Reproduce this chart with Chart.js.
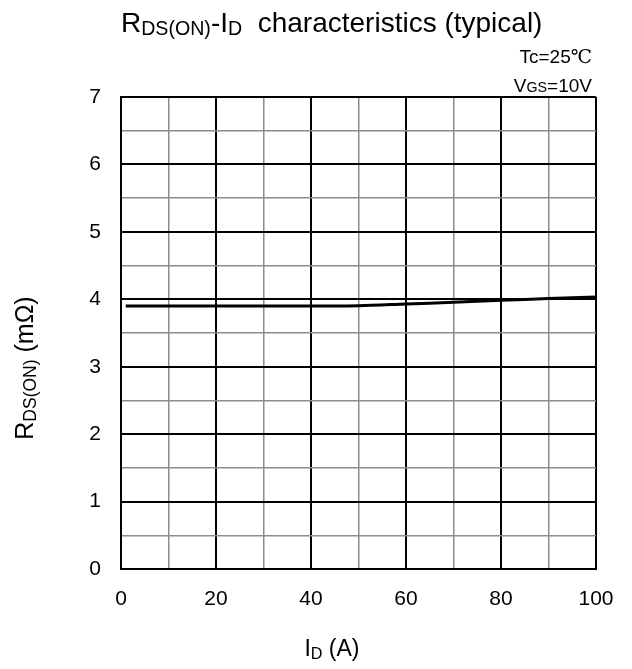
<!DOCTYPE html>
<html>
<head>
<meta charset="utf-8">
<script src="https://cdn.jsdelivr.net/npm/chart.js@4"></script>
<style>
  html, body { margin: 0; padding: 0; background: #fff; }
  #wrap { width: 632px; height: 669px; }
</style>
</head>
<body>
<div id="wrap"><canvas id="myChart" width="632" height="669"></canvas></div>
<script>
'use strict';

// drain current (A) and on-resistance (mOhm)
let currentA = [1, 10, 20, 30, 40, 50, 60, 70, 75, 80, 90, 100];
let rdsOn = [3.9, 3.9, 3.9, 3.9, 3.9, 3.905, 3.93, 3.955, 3.97, 3.985, 4.01, 4.035];
let xTicks = [0, 20, 40, 60, 80, 100];
let yTicks = [0, 1, 2, 3, 4, 5, 6, 7];

let points = [];
for (let i = 0; i < currentA.length; i++) {
  points.push({ x: currentA[i], y: rdsOn[i] });
}

let font = '"Liberation Sans", Arial, sans-serif';
let serif = '"Liberation Serif", "DejaVu Serif", serif';

// draws text pieces, some as subscripts or smaller / other font
function drawParts(ctx, parts, x, y, size, align) {
  function setFont(p) {
    let s = p.sub ? size * 0.7 : (p.small ? size * 0.75 : size);
    ctx.font = s + 'px ' + (p.serif ? serif : font);
  }
  let total = 0;
  parts.forEach(function (p) {
    setFont(p);
    total += ctx.measureText(p.t).width;
  });
  let cx = align === 'right' ? x - total : (align === 'center' ? x - total / 2 : x);
  parts.forEach(function (p) {
    setFont(p);
    ctx.fillText(p.t, cx, p.sub ? y + size * 0.12 : y);
    cx += ctx.measureText(p.t).width;
  });
}

let labelsPlugin = {
  id: 'labels',
  afterDraw(chart) {
    let ctx = chart.ctx;
    ctx.save();
    ctx.fillStyle = '#000';
    ctx.textBaseline = 'alphabetic';
    drawParts(ctx, [{ t: 'R' }, { t: 'DS(ON)', sub: true }, { t: '-I' }, { t: 'D', sub: true },
      { t: '  characteristics (typical)' }], 121, 32, 28, 'left');
    drawParts(ctx, [{ t: 'Tc=25' }, { t: '\u2103', serif: true }], 592, 63, 19, 'right');
    drawParts(ctx, [{ t: 'V' }, { t: 'GS', small: true }, { t: '=10V' }], 592, 92, 19, 'right');
    drawParts(ctx, [{ t: 'I' }, { t: 'D', sub: true }, { t: ' (A)' }], 332, 656, 23, 'center');
    ctx.translate(33, 368);
    ctx.rotate(-Math.PI / 2);
    drawParts(ctx, [{ t: 'R' }, { t: 'DS(ON)', sub: true }, { t: ' (m\u03a9)' }], 0, 0, 25, 'center');
    ctx.restore();
  }
};

let ctx = document.getElementById('myChart').getContext('2d');
let chart = new Chart(ctx, {
  type: 'line',
  data: {
    datasets: [{
      data: points,
      borderColor: '#000',
      borderWidth: 3,
      pointRadius: 0,
      tension: 0.3,
      fill: false
    }]
  },
  options: {
    responsive: false,
    animation: false,
    layout: { padding: { left: 0, top: 97, right: 36, bottom: 0 } },
    plugins: { legend: { display: false }, tooltip: { enabled: false } },
    scales: {
      x: {
        type: 'linear',
        min: 0,
        max: 100,
        afterFit(s) { s.height = 100; },
        afterBuildTicks(s) {
          let t = [];
          for (let v = 0; v <= 100; v += 10) t.push({ value: v });
          s.ticks = t;
        },
        border: { color: '#000', width: 2 },
        grid: {
          drawTicks: false,
          color(c) { return c.tick.value % 20 === 0 ? '#000' : '#8c8c8c'; },
          lineWidth(c) { return c.tick.value % 20 === 0 ? 2 : 1.5; }
        },
        ticks: {
          padding: 18,
          color: '#000',
          font: { family: font, size: 21 },
          maxRotation: 0,
          autoSkip: false,
          callback(v) { return xTicks.includes(v) ? String(v) : ''; }
        }
      },
      y: {
        min: 0,
        max: 7,
        afterFit(s) { s.width = 121; },
        afterBuildTicks(s) {
          let t = [];
          for (let v = 0; v <= 14; v++) t.push({ value: v / 2 });
          s.ticks = t;
        },
        border: { color: '#000', width: 2 },
        grid: {
          drawTicks: false,
          color(c) { return c.tick.value % 1 === 0 ? '#000' : '#8c8c8c'; },
          lineWidth(c) { return c.tick.value % 1 === 0 ? 2 : 1.5; }
        },
        ticks: {
          padding: 20,
          color: '#000',
          font: { family: font, size: 21 },
          autoSkip: false,
          callback(v) { return yTicks.includes(v) ? String(v) : ''; }
        }
      }
    }
  },
  plugins: [labelsPlugin]
});
</script>
</body>
</html>
